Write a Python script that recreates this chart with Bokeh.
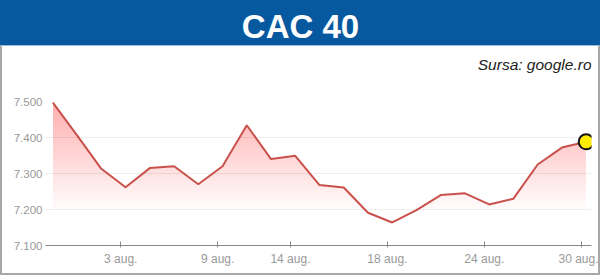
import numpy as np
from bokeh.plotting import figure
from bokeh.models import Range1d, FixedTicker
from bokeh.layouts import column
from bokeh.embed import file_html
from bokeh.resources import INLINE
from bokeh.core.properties import value

# ---- data ----
dates = ["31 iul.", "1 aug.", "2 aug.", "3 aug.", "4 aug.", "7 aug.", "8 aug.", "9 aug.",
         "10 aug.", "11 aug.", "14 aug.", "15 aug.", "16 aug.", "17 aug.", "18 aug.",
         "21 aug.", "22 aug.", "23 aug.", "24 aug.", "25 aug.", "28 aug.", "29 aug.", "30 aug."]
closes = [7497, 7406, 7313, 7262, 7315, 7320, 7270, 7320, 7434, 7340, 7349, 7268, 7261,
          7191, 7164, 7198, 7240, 7245, 7214, 7230, 7325, 7372, 7388]
x_tick_dates = ["3 aug.", "9 aug.", "14 aug.", "18 aug.", "24 aug.", "30 aug."]
y_ticks = [7100, 7200, 7300, 7400, 7500]
y_tick_labels = ["7.100", "7.200", "7.300", "7.400", "7.500"]

BLUE = "#07599f"
LINE = "#c9514b"
FONT = "Liberation Sans"
BORDER = "2px solid #a8a8a8"

idx = list(range(len(closes)))

# ---- header ----
header = figure(width=600, height=45, x_range=Range1d(0, 600), y_range=Range1d(0, 45),
                toolbar_location=None, output_backend="svg", min_border=0,
                x_axis_location=None, y_axis_location=None,
                background_fill_color=BLUE, border_fill_color=BLUE,
                outline_line_color=BLUE, outline_line_width=3)
header.grid.visible = False
header.text(x=[300], y=[19.5], text=["CAC 40"], text_align="center", text_baseline="middle",
            text_font=value(FONT), text_font_style="bold", text_font_size="33px",
            text_color="white")

# ---- source strip ----
strip = figure(width=600, height=41, x_range=Range1d(45, 587), y_range=Range1d(0, 40),
               toolbar_location=None, output_backend="svg",
               min_border_left=43, min_border_right=11, min_border_top=0, min_border_bottom=0,
               x_axis_location=None, y_axis_location=None,
               background_fill_color="white", border_fill_color="white", outline_line_color=None,
               styles={"border-left": BORDER, "border-right": BORDER,
                       "border-top": "1px solid #9dbbe0"})
strip.grid.visible = False
strip.text(x=[587], y=[22], text=["Sursa: google.ro"], text_align="right",
           text_baseline="middle", text_font=value(FONT), text_font_style="italic",
           text_font_size="15.5px", text_color="#222222")

# ---- main chart ----
p = figure(width=600, height=189, x_range=Range1d(-0.303, 22.22), y_range=Range1d(7100, 7500),
           toolbar_location=None, output_backend="svg",
           min_border_left=43, min_border_right=11, min_border_top=15, min_border_bottom=30,
           outline_line_color=None, background_fill_color="white", border_fill_color="white",
           styles={"border-left": BORDER, "border-right": BORDER, "border-bottom": BORDER})

# gradient fill (stacked translucent layers)
def clipped(xs, ys, level):
    px, py = [], []
    for i in range(len(xs)):
        if i > 0:
            a, b = ys[i - 1] - level, ys[i] - level
            if a * b < 0:
                t = a / (a - b)
                px.append(xs[i - 1] + t * (xs[i] - xs[i - 1]))
                py.append(level)
        px.append(xs[i])
        py.append(max(ys[i], level))
    return px, py

K = 40
lo, hi = 7195, 7500
a = 1 - (1 - 0.36) ** (1 / K)
for k in range(K):
    lvl = lo + k * (hi - lo) / K
    px, py = clipped(idx, closes, lvl)
    p.varea(x=px, y1=[lvl] * len(px), y2=py, fill_color="#e0443c", fill_alpha=a)

p.line(idx, closes, line_color=LINE, line_width=2)
p.scatter([idx[-1]], [closes[-1]], size=15, fill_color="#ffec00", line_color="#111111",
          line_width=2)

# axes
p.yaxis.ticker = FixedTicker(ticks=y_ticks)
p.yaxis.major_label_overrides = dict(zip(y_ticks, y_tick_labels))
p.yaxis.axis_line_color = None
p.yaxis.major_tick_line_color = None
p.yaxis.major_tick_out = 0
p.yaxis.major_tick_in = 0
p.yaxis.minor_tick_line_color = None
p.yaxis.minor_tick_out = 0
p.yaxis.major_label_standoff = 3
p.yaxis.major_label_text_color = "#999999"
p.yaxis.major_label_text_font = FONT
p.yaxis.major_label_text_font_size = "11.5px"

tick_pos = [dates.index(d) - 0.2 for d in x_tick_dates]
p.xaxis.ticker = FixedTicker(ticks=tick_pos)
p.xaxis.major_label_overrides = dict(zip(tick_pos, x_tick_dates))
p.xaxis.axis_line_color = "#888888"
p.xaxis.major_tick_line_color = "#888888"
p.xaxis.major_tick_in = 4
p.xaxis.major_tick_out = 2
p.xaxis.minor_tick_line_color = None
p.xaxis.major_label_standoff = 4
p.xaxis.major_label_text_color = "#999999"
p.xaxis.major_label_text_font = FONT
p.xaxis.major_label_text_font_size = "12px"

p.xgrid.visible = False
p.ygrid.grid_line_color = "#efefef"

layout = column(header, column(strip, p, spacing=0), spacing=0)
open("out.html", "w").write(file_html(layout, INLINE))
